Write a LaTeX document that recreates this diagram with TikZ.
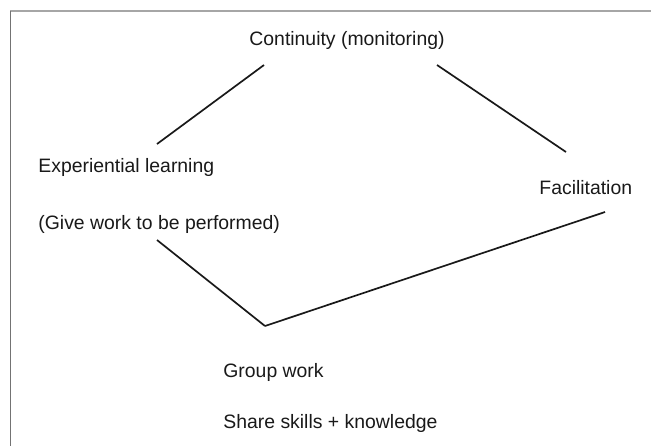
\documentclass[tikz,border=0pt]{standalone}
\usepackage{fontspec}
\setmainfont{Liberation Sans}
\begin{document}
\begin{tikzpicture}[x=0.5pt, y=-0.5pt, lbl/.style = {inner sep=0pt, anchor=base west, text=black!90, font=\fontsize{9.7}{11}\selectfont}, link/.style = {line width=0.85pt, black!90}] 
			\useasboundingbox (0,0) rectangle (651,446);
			\draw[gray!70, line width=1pt] (10,11) -- (651,11);
			\draw[gray!90!black, line width=0.7pt] (10.5,11) -- (10.5,446);
			\node[lbl, anchor=base] (cont) at (347,45) {Continuity (monitoring)}; 
			\node[lbl] (exp) at (38,172) {Experiential learning};
			\node[lbl] (give) at (38,229) {(Give work to be performed)};
			\node[lbl] (fac) at (539,194) {Facilitation};
			\node[lbl] (group) at (223,377) {Group work};
			\node[lbl] (share) at (223,428) {Share skills + knowledge};
			\coordinate (c1) at (264,65);
			\coordinate (e1) at (157,144);
			\coordinate (c2) at (437,65);
			\coordinate (f1) at (566,152);
			\coordinate (g1) at (157,240);
			\coordinate (apex) at (265,326);
			\coordinate (f2) at (605,212);
			\draw[link] (c1) -- (e1);
			\draw[link] (c2) -- (f1);
			\draw[link] (g1) -- (apex);
			\draw[link] (apex) -- (f2);
		\end{tikzpicture}
\end{document}
